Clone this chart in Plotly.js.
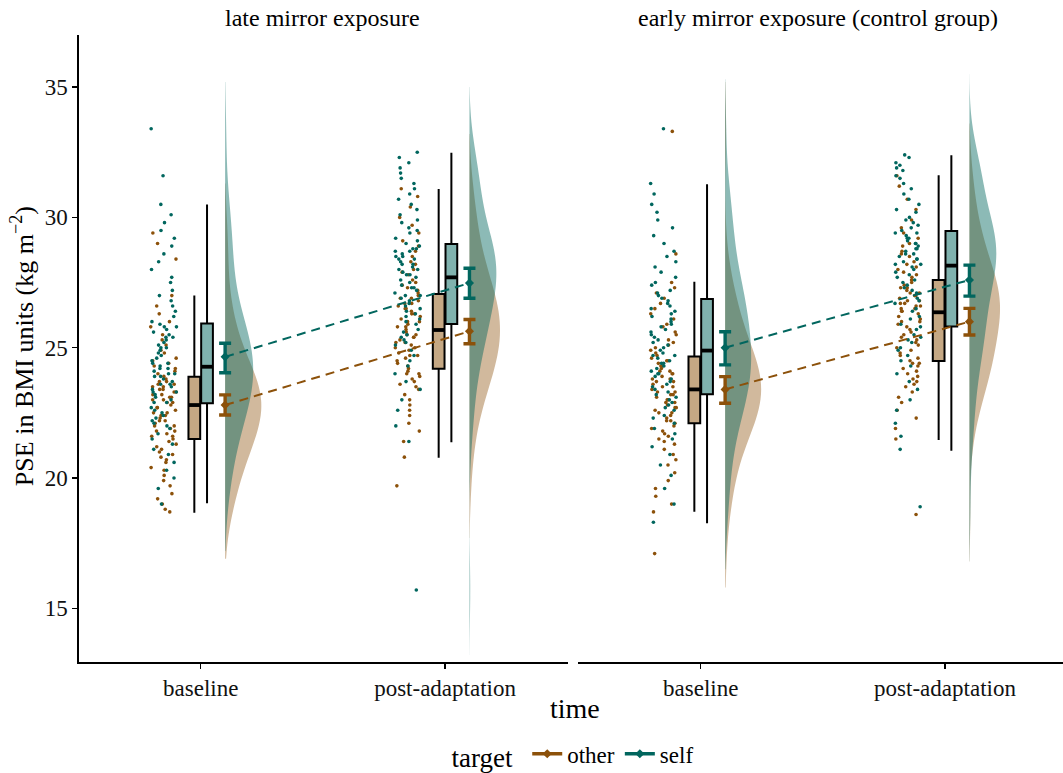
<!DOCTYPE html>
<html><head><meta charset="utf-8">
<script src="https://cdn.plot.ly/plotly-3.0.1.min.js"></script>
<style>html,body{margin:0;padding:0;background:#fff;overflow:hidden}#chart{width:1063px;height:773px}</style>
</head><body><div id="chart"></div>
<script>
// ---------------- data ----------------
const categories = ['baseline', 'post-adaptation'];
const panelTitles = ['late mirror exposure', 'early mirror exposure (control group)'];
const targets = ['other', 'self'];

// individual PSE values (kg m^-2) read from the dot strips
const late_baseline_other = [18.7,18.8,19.0,19.2,19.4,19.7,19.9,20.1,20.3,20.4,20.6,20.7,20.8,20.9,21.0,21.1,21.2,21.3,21.4,21.5,
 21.6,21.6,21.7,21.8,21.8,21.9,22.0,22.0,22.1,22.2,22.2,22.3,22.4,22.4,22.5,22.5,22.6,22.7,22.7,22.8,
 22.9,22.9,23.0,23.0,23.1,23.1,23.2,23.2,23.3,23.3,23.4,23.4,23.5,23.5,23.6,23.6,23.7,23.7,23.8,23.9,
 24.0,24.1,24.2,24.3,24.4,24.5,24.6,24.8,24.9,25.1,25.3,25.5,25.8,26.0,26.3,26.6,27.0,28.4,29.0,29.4];
const late_baseline_self = [19.0,19.6,20.0,20.3,20.6,20.9,21.1,21.3,21.5,21.7,21.9,22.0,22.1,22.2,22.3,22.4,22.5,22.6,22.7,22.9,
 22.9,23.0,23.1,23.2,23.3,23.3,23.4,23.5,23.6,23.6,23.7,23.8,23.9,23.9,24.0,24.0,24.1,24.2,24.2,24.3,
 24.4,24.4,24.5,24.6,24.7,24.8,24.9,25.0,25.0,25.1,25.2,25.3,25.4,25.4,25.5,25.6,25.7,25.8,25.8,25.9,
 26.0,26.2,26.4,26.6,26.8,27.0,27.2,27.5,27.7,28.0,28.3,28.6,28.9,29.2,29.5,29.8,30.1,30.5,31.6,33.4];
const late_post_other = [19.7,20.8,21.4,21.8,22.1,22.4,22.6,22.8,23.0,23.2,23.4,23.5,23.6,23.7,23.8,23.9,24.0,24.0,24.1,24.2,
 24.3,24.4,24.5,24.6,24.7,24.7,24.8,24.9,25.0,25.0,25.1,25.2,25.2,25.3,25.4,25.4,25.5,25.5,25.6,25.7,
 25.8,25.8,25.9,26.0,26.0,26.1,26.2,26.3,26.3,26.4,26.5,26.5,26.6,26.7,26.7,26.8,26.9,26.9,27.0,27.1,
 27.2,27.3,27.4,27.5,27.6,27.8,27.9,28.0,28.2,28.3,28.5,28.7,28.9,29.1,29.4,29.7,30.0,30.4,30.8,31.1];
const late_post_self = [15.7,21.4,22.0,22.6,23.0,23.4,23.7,24.0,24.3,24.5,24.7,24.9,25.1,25.2,25.3,25.4,25.5,25.6,25.7,25.9,
 26.0,26.1,26.2,26.3,26.4,26.5,26.6,26.7,26.8,26.9,27.0,27.0,27.1,27.2,27.3,27.3,27.4,27.5,27.6,27.7,
 27.8,27.8,27.9,28.0,28.0,28.1,28.2,28.2,28.3,28.4,28.4,28.5,28.5,28.6,28.7,28.7,28.8,28.8,28.9,29.0,
 29.1,29.2,29.4,29.5,29.6,29.8,29.9,30.1,30.3,30.5,30.7,30.9,31.1,31.3,31.5,31.7,31.9,32.1,32.3,32.5];
const early_baseline_other = [17.1,18.7,19.0,19.3,19.6,19.9,20.2,20.5,20.7,20.9,21.1,21.3,21.4,21.5,21.6,21.7,21.8,21.9,22.0,22.1,
 22.2,22.2,22.3,22.4,22.5,22.5,22.6,22.7,22.7,22.8,22.9,22.9,23.0,23.0,23.1,23.2,23.2,23.3,23.3,23.4,
 23.5,23.5,23.6,23.7,23.7,23.8,23.8,23.9,24.0,24.0,24.1,24.1,24.2,24.3,24.3,24.4,24.5,24.5,24.6,24.7,
 24.8,24.9,25.0,25.1,25.2,25.3,25.5,25.6,25.8,25.9,26.1,26.3,26.5,26.7,26.9,27.1,27.3,27.5,28.6,33.3];
const early_baseline_self = [18.3,19.0,19.6,20.1,20.5,20.9,21.2,21.5,21.7,21.9,22.1,22.3,22.4,22.6,22.7,22.8,22.9,23.0,23.1,23.2,
 23.3,23.4,23.5,23.6,23.7,23.8,23.9,24.0,24.0,24.1,24.2,24.3,24.4,24.4,24.5,24.6,24.7,24.7,24.8,24.9,
 25.0,25.1,25.2,25.3,25.4,25.5,25.6,25.7,25.8,25.9,26.0,26.1,26.2,26.3,26.4,26.5,26.6,26.7,26.8,26.9,
 27.0,27.1,27.2,27.4,27.5,27.7,27.9,28.1,28.3,28.5,28.7,29.0,29.3,29.6,29.9,30.2,30.5,30.9,31.3,33.4];
const early_post_other = [18.6,21.5,21.9,22.3,22.6,22.9,23.1,23.3,23.5,23.6,23.7,23.8,23.9,24.0,24.1,24.2,24.3,24.4,24.4,24.5,
 24.6,24.7,24.8,24.9,25.0,25.1,25.2,25.3,25.4,25.5,25.6,25.7,25.8,25.9,26.0,26.0,26.1,26.2,26.3,26.4,
 26.4,26.5,26.5,26.6,26.6,26.7,26.7,26.8,26.8,26.9,27.0,27.0,27.1,27.1,27.2,27.3,27.3,27.4,27.5,27.6,
 27.7,27.8,27.9,28.0,28.1,28.2,28.3,28.5,28.6,28.7,28.9,29.0,29.2,29.4,29.6,29.9,30.3,30.7,31.2,31.6];
const early_post_self = [18.9,21.1,21.6,22.1,22.6,23.0,23.4,23.7,24.0,24.3,24.5,24.7,24.9,25.0,25.2,25.3,25.4,25.5,25.7,25.8,
 25.9,26.1,26.2,26.4,26.5,26.7,26.8,26.9,27.1,27.2,27.3,27.4,27.5,27.6,27.7,27.8,27.9,28.0,28.1,28.2,
 28.2,28.3,28.4,28.4,28.5,28.6,28.6,28.7,28.8,28.8,28.9,29.0,29.0,29.1,29.2,29.2,29.3,29.4,29.4,29.5,
 29.6,29.7,29.8,29.9,30.0,30.2,30.3,30.5,30.7,30.9,31.1,31.3,31.5,31.6,31.8,31.9,32.0,32.1,32.3,32.4];

// box-plot statistics [baseline, post-adaptation]
const late_other_lowerfence = [18.67, 20.78];
const late_other_q1         = [21.50, 24.19];
const late_other_median     = [22.80, 25.68];
const late_other_q3         = [23.89, 27.06];
const late_other_upperfence = [27.00, 31.09];
const late_self_lowerfence  = [19.03, 21.37];
const late_self_q1          = [22.87, 25.91];
const late_self_median      = [24.27, 27.70];
const late_self_q3          = [25.93, 28.98];
const late_self_upperfence  = [30.50, 32.48];
const early_other_lowerfence = [18.71, 21.46];
const early_other_q1         = [22.10, 24.49];
const early_other_median     = [23.40, 26.36];
const early_other_q3         = [24.66, 27.60];
const early_other_upperfence = [27.53, 31.62];
const early_self_lowerfence  = [18.26, 21.05];
const early_self_q1          = [23.21, 25.81];
const early_self_median      = [24.89, 28.15];
const early_self_q3          = [26.87, 29.48];
const early_self_upperfence  = [31.27, 32.39];

// means with error-bar limits [baseline, post-adaptation]
const late_other_mean  = [22.80, 25.63];
const late_other_lo    = [22.42, 25.15];
const late_other_hi    = [23.19, 26.08];
const late_self_mean   = [24.65, 27.48];
const late_self_lo     = [24.04, 26.90];
const late_self_hi     = [25.17, 28.05];
const early_other_mean = [23.40, 26.00];
const early_other_lo   = [22.87, 25.49];
const early_other_hi   = [23.89, 26.51];
const early_self_mean  = [25.00, 27.60];
const early_self_lo    = [24.34, 26.98];
const early_self_hi    = [25.61, 28.17];

// ---------------- assemble ----------------
const D = {
  late: {
    other: {pts: [late_baseline_other, late_post_other], lf: late_other_lowerfence, q1: late_other_q1, med: late_other_median, q3: late_other_q3, uf: late_other_upperfence, mean: late_other_mean, lo: late_other_lo, hi: late_other_hi},
    self:  {pts: [late_baseline_self, late_post_self], lf: late_self_lowerfence, q1: late_self_q1, med: late_self_median, q3: late_self_q3, uf: late_self_upperfence, mean: late_self_mean, lo: late_self_lo, hi: late_self_hi}
  },
  early: {
    other: {pts: [early_baseline_other, early_post_other], lf: early_other_lowerfence, q1: early_other_q1, med: early_other_median, q3: early_other_q3, uf: early_other_upperfence, mean: early_other_mean, lo: early_other_lo, hi: early_other_hi},
    self:  {pts: [early_baseline_self, early_post_self], lf: early_self_lowerfence, q1: early_self_q1, med: early_self_median, q3: early_self_q3, uf: early_self_upperfence, mean: early_self_mean, lo: early_self_lo, hi: early_self_hi}
  }
};

// styles / geometry
const COL = {other: '#8c510a', self: '#01665e'};
const BOXFILL = {other: 'rgba(140,81,10,0.5)', self: 'rgba(1,102,94,0.5)'};
const VFILL = {other: 'rgba(140,81,10,0.40)', self: 'rgba(1,102,94,0.45)'};
const BOX_OFF = {other: -0.026, self: 0.026};
const BOX_W = 0.048;
const PT_OFF = -0.152, JIT = 0.053;
const ERR_OFF = 0.1, VIO_OFF = 0.1;
const VIO_W = {late: {other: [0.295, 0.25], self: [0.23, 0.22]}, early: {other: [0.295, 0.25], self: [0.213, 0.22]}};
const VIO_SPAN = {
  late:  {other: [[16.9, 31.3], [17.7, 33.2]], self: [[17.2, 35.2], [13.2, 35.0]]},
  early: {other: [[15.8, 35.2], [16.8, 33.6]], self: [[16.5, 35.3], [16.8, 35.5]]}
};
const AX = {late: 'x', early: 'x2'};

// deterministic jitter offset in [0,1) (position only, not data)
function jit(i, k) { const s = Math.sin((i + 1) * 12.9898 + k * 78.233) * 43758.5453; return s - Math.floor(s); }

const traces = [];
const panels = ['late', 'early'];

// violins (half, right side)
panels.forEach(p => targets.forEach(t => [0, 1].forEach(c => {
  traces.push({
    type: 'violin', xaxis: AX[p], yaxis: 'y', x0: c + 1 + VIO_OFF, y: D[p][t].pts[c],
    side: 'positive', width: VIO_W[p][t][c], scalegroup: p + t + c, scalemode: 'width',
    spanmode: 'manual', span: VIO_SPAN[p][t][c], bandwidth: 1.15,
    points: false, box: {visible: false}, meanline: {visible: false},
    fillcolor: VFILL[t], line: {width: 0, color: 'rgba(0,0,0,0)'},
    hoverinfo: 'skip', showlegend: false, orientation: 'v'
  });
})));

// boxes
panels.forEach(p => targets.forEach(t => {
  const d = D[p][t];
  traces.push({
    type: 'box', xaxis: AX[p], yaxis: 'y', x: [1 + BOX_OFF[t], 2 + BOX_OFF[t]],
    q1: d.q1, median: d.med, q3: d.q3, lowerfence: d.lf, upperfence: d.uf,
    width: BOX_W, fillcolor: BOXFILL[t], line: {color: '#000', width: 2},
    whiskerwidth: 0, boxpoints: false, showlegend: false, hoverinfo: 'skip'
  });
  const mx = [], my = [];
  [0, 1].forEach(c => {
    const cx = c + 1 + BOX_OFF[t];
    mx.push(cx - BOX_W / 2, cx + BOX_W / 2, null);
    my.push(d.med[c], d.med[c], null);
  });
  traces.push({type: 'scatter', mode: 'lines', xaxis: AX[p], yaxis: 'y', x: mx, y: my,
    line: {color: '#000', width: 3.8}, showlegend: false, hoverinfo: 'skip'});
}));

// jittered raw points
panels.forEach((p, pi) => targets.forEach((t, ti) => {
  const xs = [], ys = [];
  [0, 1].forEach(c => {
    D[p][t].pts[c].forEach((v, i) => {
      const u = jit(i, ti * 2 + c + pi * 4 + 1);
      xs.push(c + 1 + PT_OFF + (u - 0.5) * 2 * JIT);
      ys.push(v);
    });
  });
  traces.push({type: 'scatter', mode: 'markers', xaxis: AX[p], yaxis: 'y', x: xs, y: ys,
    marker: {size: 3.6, color: COL[t]}, showlegend: false, hoverinfo: 'skip'});
}));

// means, error bars and dashed connecting lines
panels.forEach(p => targets.forEach(t => {
  const d = D[p][t];
  traces.push({
    type: 'scatter', mode: 'lines+markers', xaxis: AX[p], yaxis: 'y',
    x: [1 + ERR_OFF, 2 + ERR_OFF], y: d.mean,
    line: {color: COL[t], width: 2, dash: '9px,6px'},
    marker: {symbol: 'diamond', size: 7, color: COL[t]},
    error_y: {type: 'data', symmetric: false,
      array: d.hi.map((h, i) => h - d.mean[i]), arrayminus: d.lo.map((l, i) => d.mean[i] - l),
      color: COL[t], thickness: 3.4, width: 6},
    showlegend: false, hoverinfo: 'skip'
  });
}));

// legend keys
targets.forEach(t => traces.push({
  type: 'scatter', mode: 'lines+markers', name: t, x: [null], y: [null], xaxis: 'x', yaxis: 'y',
  line: {color: COL[t], width: 3.5}, marker: {symbol: 'diamond', size: 7, color: COL[t]}, showlegend: true
}));

// paper geometry: plot area 35..661.7 px (626.7 px tall), no auto-expansion
const PH = 626.7;
const py = px => (661.7 - px) / PH;
const px2x = px => (px - 79) / 984;

const FONT = '"Liberation Serif", "Times New Roman", serif';
const xBase = {
  type: 'linear', tickvals: [1, 2], ticktext: categories, showline: true, linecolor: '#000', linewidth: 1.6,
  ticks: 'outside', ticklen: 5, tickwidth: 1.4, tickcolor: '#000', showgrid: false, zeroline: false,
  anchor: 'y', tickfont: {size: 23, color: '#111', family: FONT}, automargin: false
};
const layout = {
  width: 1063, height: 773,
  margin: {l: 79, r: 0, t: 35, b: 111.3, autoexpand: false},
  paper_bgcolor: '#fff', plot_bgcolor: 'rgba(0,0,0,0)',
  font: {family: FONT, color: '#000', size: 22},
  violinmode: 'overlay', boxmode: 'overlay', showlegend: true,
  xaxis: Object.assign({}, xBase, {domain: [0, 0.497], range: [0.502, 2.5035]}),
  xaxis2: Object.assign({}, xBase, {domain: [0.5071, 1], range: [0.4977, 2.483]}),
  yaxis: {type: 'linear', range: [12.94, 37.0], tickvals: [15, 20, 25, 30, 35], showline: true, linecolor: '#000',
    linewidth: 1.6, ticks: 'outside', ticklen: 5, tickwidth: 1.4, tickcolor: '#000', showgrid: false,
    zeroline: false, anchor: 'x', automargin: false, tickfont: {size: 23, color: '#111', family: FONT}},
  legend: {orientation: 'h', x: px2x(574), xanchor: 'center', y: py(755), yanchor: 'middle',
    title: {text: 'target ', side: 'left', font: {size: 27, family: FONT}},
    font: {size: 23, family: FONT}, itemwidth: 30, bgcolor: 'rgba(0,0,0,0)'},
  annotations: [
    {text: panelTitles[0], xref: 'paper', yref: 'paper', x: px2x(322.5), y: py(18), showarrow: false, font: {size: 24, family: FONT}, xanchor: 'center', yanchor: 'middle'},
    {text: panelTitles[1], xref: 'paper', yref: 'paper', x: px2x(818), y: py(18), showarrow: false, font: {size: 24, family: FONT}, xanchor: 'center', yanchor: 'middle'},
    {text: 'time', xref: 'paper', yref: 'paper', x: px2x(575), y: py(708), showarrow: false, font: {size: 28, family: FONT}, xanchor: 'center', yanchor: 'middle'},
    {text: 'PSE in BMI units (kg m<sup>\u22122</sup>)', xref: 'paper', yref: 'paper', x: px2x(22), y: py(346), textangle: -90,
      showarrow: false, font: {size: 26, family: FONT}, xanchor: 'center', yanchor: 'middle'}
  ]
};

Plotly.newPlot('chart', traces, layout, {displayModeBar: false, staticPlot: true});
</script></body></html>
